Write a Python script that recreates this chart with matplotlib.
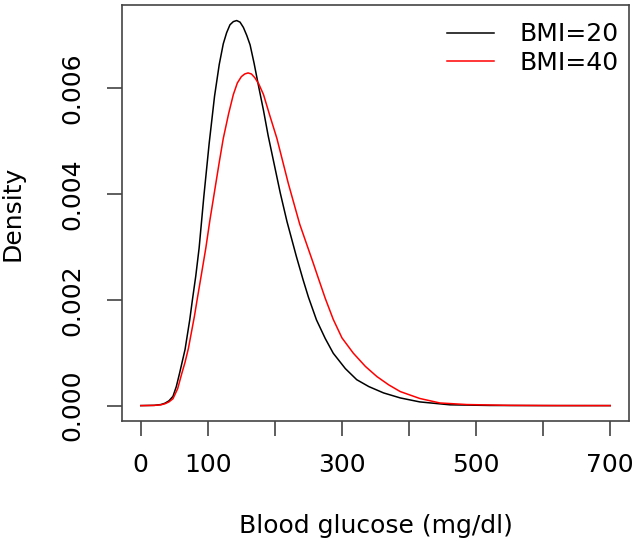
import numpy as np
import matplotlib
matplotlib.use('Agg')
from matplotlib import pyplot as plt

# values (density in units of 1e-3)
bmi20_x = [0, 20, 30, 36, 42, 48, 53, 58, 66, 73, 77, 82, 87, 94, 102, 110, 117, 123, 128,
           133, 138, 143, 148, 153, 158, 163, 169, 175, 183, 190, 200, 208, 218, 232, 242,
           250, 262, 275, 287, 305, 322, 340, 362, 387, 416, 461, 520, 600, 700]
bmi20_y = [0, 0.005, 0.02, 0.045, 0.09, 0.175, 0.36, 0.62, 1.06, 1.62, 2.0, 2.45, 2.98,
           3.95, 4.96, 5.85, 6.45, 6.84, 7.05, 7.2, 7.26, 7.28, 7.25, 7.15, 7.0, 6.82,
           6.47, 6.08, 5.58, 5.1, 4.5, 4.02, 3.48, 2.82, 2.38, 2.05, 1.62, 1.27, 0.99,
           0.7, 0.49, 0.36, 0.24, 0.145, 0.07, 0.015, 0.003, 0, 0]
bmi40_x = [0, 20, 30, 36, 42, 48, 55, 61, 66, 71, 80, 84, 90, 97, 103, 110, 117, 123, 131,
           138, 144, 150, 155, 160, 165, 170, 176, 183, 192, 203, 212, 220, 237, 257, 265,
           275, 287, 300, 317, 335, 352, 370, 387, 416, 446, 486, 550, 620, 700]
bmi40_y = [0, 0.004, 0.015, 0.035, 0.07, 0.13, 0.32, 0.6, 0.82, 1.08, 1.69, 2.0, 2.45,
           2.98, 3.5, 4.05, 4.6, 5.05, 5.52, 5.88, 6.1, 6.22, 6.27, 6.29, 6.27, 6.2, 6.08,
           5.88, 5.5, 5.05, 4.6, 4.2, 3.43, 2.7, 2.4, 2.03, 1.63, 1.28, 0.99, 0.74, 0.55,
           0.39, 0.265, 0.135, 0.05, 0.02, 0.005, 0.001, 0]
labels = ['BMI=20', 'BMI=40']
xticks = [0, 100, 200, 300, 400, 500, 600, 700]
xticklabels = ['0', '100', '', '300', '', '500', '', '700']
yticks = [0, 0.002, 0.004, 0.006]
yticklabels = ['0.000', '0.002', '0.004', '0.006']

plt.rcParams['font.family'] = ['DejaVu Sans']
fig = plt.figure(figsize=(6.38, 5.45), dpi=100)
ax = fig.add_axes([122/638, 1-421/545, 507/638, 416/545])

ax.plot(bmi20_x, np.array(bmi20_y)*1e-3, color='black', lw=1.1, label=labels[0])
ax.plot(bmi40_x, np.array(bmi40_y)*1e-3, color='red', lw=1.1, label=labels[1])

ax.set_xlim(-28, 728)
ax.set_ylim(-0.000291, 0.007574)
ax.set_xticks(xticks)
ax.set_xticklabels(xticklabels)
ax.set_yticks(yticks)
ax.set_yticklabels(yticklabels, rotation=90, va='center')
ax.tick_params(labelsize=18, length=11, width=1.1, color='#333333')
ax.tick_params(axis='x', pad=12)
ax.tick_params(axis='y', pad=16)
for s in ax.spines.values():
    s.set_linewidth(1.2)
    s.set_color('#444444')

ax.set_xlabel('Blood glucose (mg/dl)', fontsize=18, labelpad=27)
ax.set_ylabel('Density', fontsize=18, labelpad=26)

ax.legend(loc='upper right', bbox_to_anchor=(0.979, 0.958), frameon=False,
          fontsize=18, handlelength=1.9, handletextpad=1.0, labelspacing=0.18,
          borderpad=0, borderaxespad=0)

fig.savefig('out.png', dpi=100)
